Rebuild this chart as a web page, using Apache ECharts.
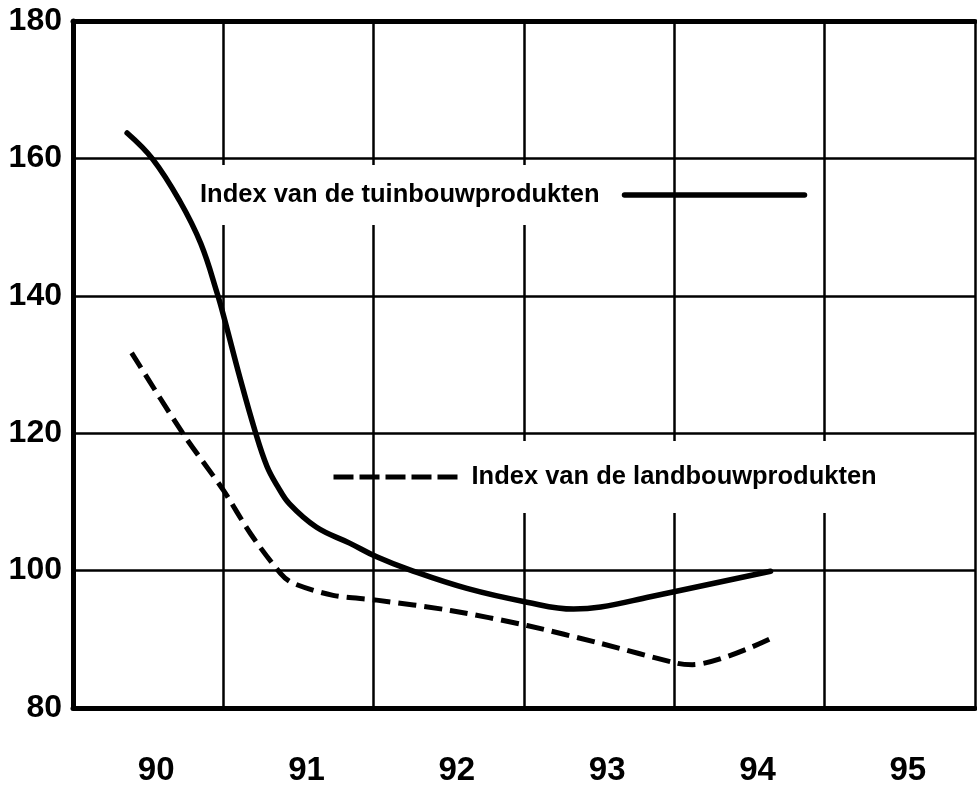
<!DOCTYPE html>
<html>
<head>
<meta charset="utf-8">
<script src="https://cdn.jsdelivr.net/npm/echarts@6/dist/echarts.min.js"></script>
<style>
  html, body { margin: 0; padding: 0; background: #fff; }
  #chart { width: 977px; height: 792px; }
</style>
</head>
<body>
<div id="chart"></div>
<script>
// jaren op de x-as
var years = ['90', '91', '92', '93', '94', '95'];
var yTicks = [80, 100, 120, 140, 160, 180];

// Index van de tuinbouwprodukten (x = decimaal jaar)
var tuinX = [89.86, 90.03, 90.21, 90.35, 90.46, 90.51, 90.61, 90.71, 90.79, 90.86, 90.94, 91.12, 91.34, 91.52, 91.74, 92.12, 92.52, 92.83, 93.01, 93.34, 94.14];
var tuinY = [163.7, 159.9, 153.8, 147.6, 140.3, 136.4, 128.1, 120.4, 115.2, 112.3, 109.7, 106.3, 104.0, 102.0, 100.1, 97.4, 95.4, 94.4, 94.7, 96.2, 99.9];

// Index van de landbouwprodukten
var landX = [89.89, 90.23, 90.50, 90.68, 90.88, 90.96, 91.23, 91.52, 92.01, 92.52, 93.01, 93.52, 93.62, 94.14];
var landY = [131.7, 120.0, 111.7, 105.4, 99.6, 98.2, 96.4, 95.7, 94.2, 92.0, 89.4, 86.5, 86.3, 90.1];

var tuinName = 'Index van de tuinbouwprodukten';
var landName = 'Index van de landbouwprodukten';

function pairs(xs, ys) {
  return xs.map(function (x, i) { return [x, ys[i]]; });
}

var font = '"Liberation Sans", Arial, Helvetica, sans-serif';
var ink = '#000';

var chart = echarts.init(document.getElementById('chart'), null, { renderer: 'canvas' });

var legendText = function (pad) {
  return {
    fontFamily: font, fontSize: 25.5, fontWeight: 'bold', color: ink,
    backgroundColor: '#fff', padding: pad
  };
};

var option = {
  backgroundColor: '#fff',
  animation: false,
  grid: { left: 73, right: 2, top: 21, bottom: 84, containLabel: false },
  legend: [
    {
      data: [tuinName],
      left: 194, top: 165,
      align: 'right',
      padding: 0,
      itemWidth: 180, itemHeight: 14,
      selectedMode: false,
      z: 1,
      itemStyle: { opacity: 0 },
      lineStyle: { width: 5.5, color: ink },
      textStyle: legendText([20, 20, 14, 6])
    },
    {
      data: [landName],
      left: 331, top: 441,
      align: 'left',
      padding: 0,
      itemWidth: 126, itemHeight: 14,
      selectedMode: false,
      z: 1,
      itemStyle: { opacity: 0 },
      lineStyle: { width: 5, color: ink, type: [20, 6] },
      textStyle: legendText([20, 6, 26, 7])
    }
  ],
  xAxis: [
    {
      type: 'category',
      data: years,
      position: 'bottom',
      boundaryGap: true,
      axisLine: { lineStyle: { color: ink, width: 5 } },
      axisTick: { show: false },
      axisLabel: {
        margin: 46, fontFamily: font, fontSize: 33, fontWeight: 'bold', color: ink,
        padding: [0, 0, 0, 16]
      },
      splitLine: { show: true, lineStyle: { color: ink, width: 2.5 } }
    },
    {
      type: 'category',
      data: years,
      position: 'top',
      axisLine: { lineStyle: { color: ink, width: 5 } },
      axisTick: { show: false },
      axisLabel: { show: false },
      splitLine: { show: false }
    },
    {
      type: 'value',
      min: 89.5, max: 95.5,
      show: false,
      splitLine: { show: false }
    }
  ],
  yAxis: {
    type: 'value',
    min: yTicks[0], max: yTicks[yTicks.length - 1], interval: 20,
    axisLine: { show: true, lineStyle: { color: ink, width: 5 } },
    axisTick: { show: false },
    axisLabel: { margin: 11, fontFamily: font, fontSize: 32, fontWeight: 'bold', color: ink },
    splitLine: { show: true, lineStyle: { color: ink, width: 2.5 } }
  },
  series: [
    {
      name: tuinName,
      type: 'line',
      xAxisIndex: 2,
      data: pairs(tuinX, tuinY),
      smooth: 0.4,
      symbol: 'none',
      z: 3,
      lineStyle: { color: ink, width: 5.5, cap: 'round', join: 'round' },
      itemStyle: { color: ink }
    },
    {
      name: landName,
      type: 'line',
      xAxisIndex: 2,
      data: pairs(landX, landY),
      smooth: 0.3,
      symbol: 'none',
      z: 3,
      lineStyle: { color: ink, width: 5, type: [18, 8] },
      itemStyle: { color: ink }
    }
  ]
};

chart.setOption(option);
</script>
</body>
</html>
